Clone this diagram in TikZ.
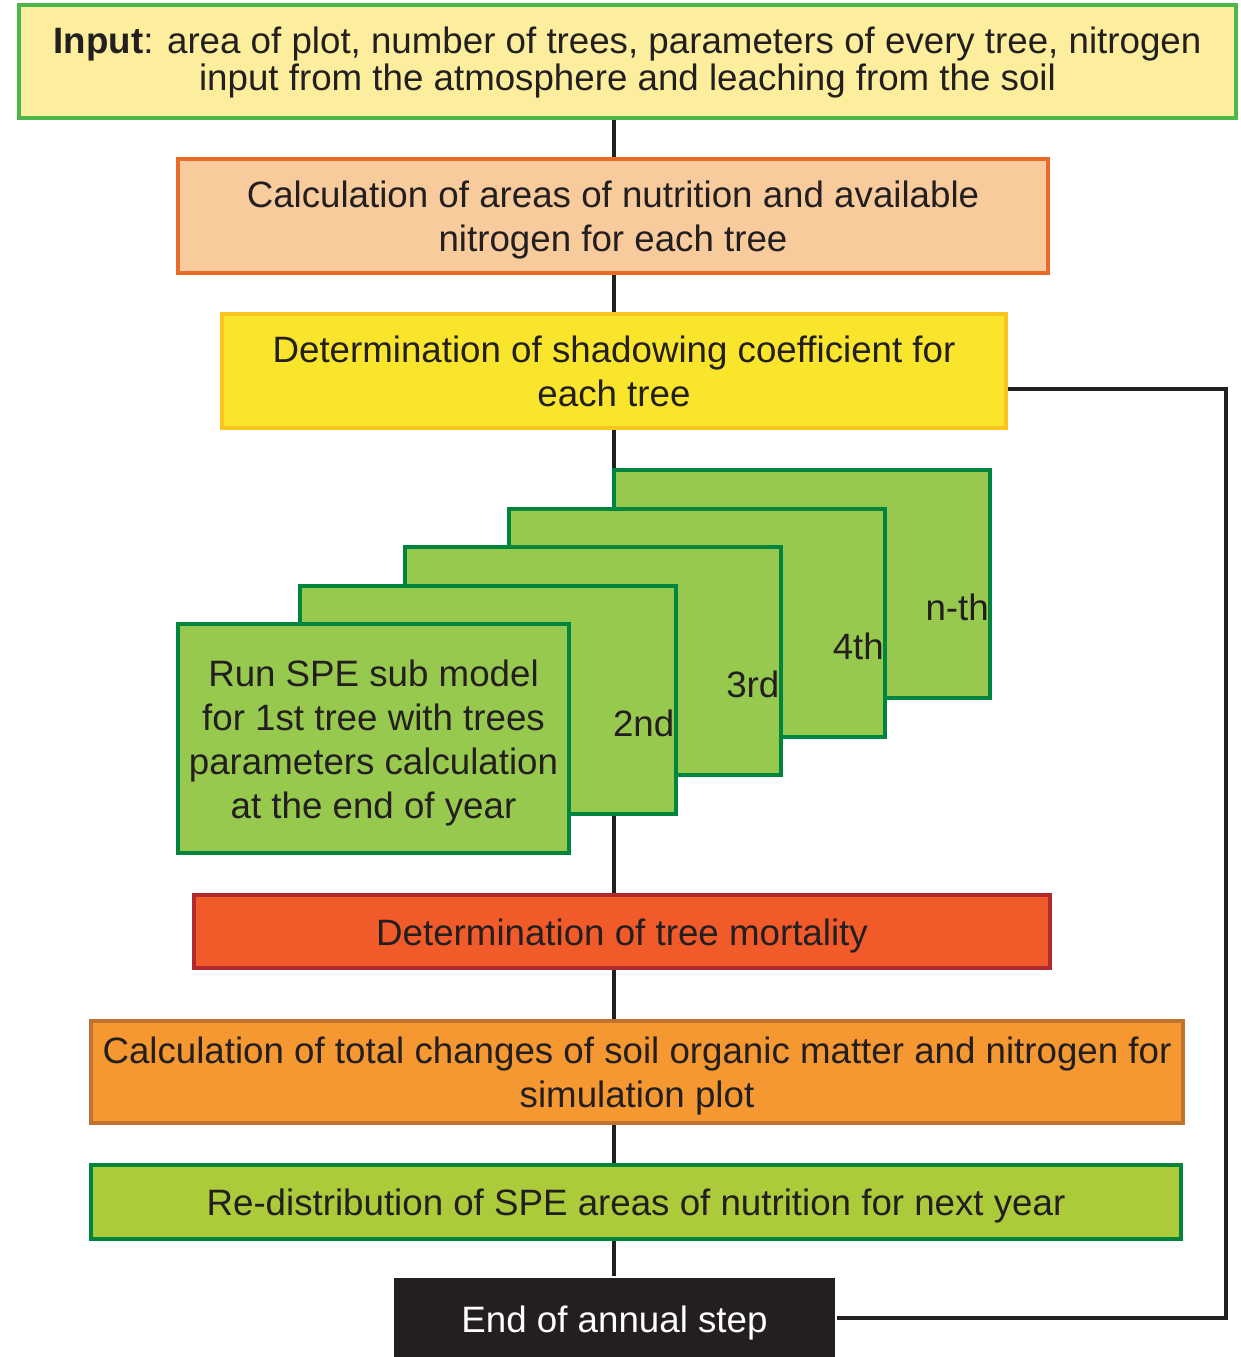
\documentclass[tikz,border=0pt]{standalone}
\usepackage{fontspec}
\setmainfont{Liberation Sans}
\definecolor{txt}{HTML}{231F20}
\definecolor{inFill}{HTML}{FCEE9C}
\definecolor{inLine}{HTML}{4CB649}
\definecolor{caFill}{HTML}{F8CB9C}
\definecolor{caLine}{HTML}{E86B2A}
\definecolor{shFill}{HTML}{F9E52B}
\definecolor{shLine}{HTML}{F9C41E}
\definecolor{stFill}{HTML}{97C94F}
\definecolor{stLine}{HTML}{00853F}
\definecolor{moFill}{HTML}{F15A29}
\definecolor{moLine}{HTML}{B12A30}
\definecolor{toFill}{HTML}{F59831}
\definecolor{toLine}{HTML}{C0732F}
\definecolor{reFill}{HTML}{ACCB3B}
\definecolor{reLine}{HTML}{00853F}
\newcommand\boxtext[2][-5pt]{\raisebox{#1}[\height][\depth]{\begin{tabular}{@{}c@{}}#2\end{tabular}}}
\begin{document}
\begin{tikzpicture}[x=1pt,y=-1pt,
  box/.style={rectangle,line width=4pt,inner sep=0pt,text=txt,
    font=\fontsize{36.7}{44}\selectfont},
  stackbox/.style={box,draw=stLine,fill=stFill,minimum width=376pt,minimum height=228pt},
  stacklabel/.style={inner sep=0pt,text=txt,font=\fontsize{36.7}{44}\selectfont,anchor=east},
  conn/.style={line width=4pt,draw=txt}]
\useasboundingbox (0,0) rectangle (1240,1357);
\coordinate (trunk) at (614,0);
\coordinate (fbx) at (1226,0);

\node[box,draw=inLine,fill=inFill,minimum width=1217pt,minimum height=113pt,
  font=\fontsize{36.7}{34}\selectfont] (input) at (627.5,61.5)
  {\boxtext[-2pt]{\textbf{Input}: area of plot, number of trees, parameters of every tree, nitrogen\\input from the atmosphere and leaching from the soil}};
\node[box,draw=caLine,fill=caFill,minimum width=870pt,minimum height=114pt] (calc) at (613,216)
  {\boxtext{Calculation of areas of nutrition and available\\nitrogen for each tree}};
\node[box,draw=shLine,fill=shFill,minimum width=784pt,minimum height=114pt] (shadow) at (614,371)
  {\boxtext{Determination of shadowing coefficient for\\each tree}};

\draw[conn] (input.south -| trunk) -- (calc.north -| trunk);
\draw[conn] (calc.south -| trunk) -- (shadow.north -| trunk);

\node[stackbox] (nth) at (802,584) {};
\draw[conn] (shadow.south -| trunk) -- (nth.north -| trunk);
\node[stacklabel] (lnth) at ([xshift=-3pt,yshift=-23pt]nth.east) {n-th};
\node[stackbox] (fourth) at (697,623) {};
\node[stacklabel] (lfourth) at ([xshift=-3pt,yshift=-23pt]fourth.east) {4th};
\node[stackbox] (third) at (592.5,661) {};
\node[stacklabel] (lthird) at ([xshift=-3pt,yshift=-23pt]third.east) {3rd};
\node[stackbox] (second) at (487.5,700) {};
\node[stacklabel] (lsecond) at ([xshift=-3pt,yshift=-23pt]second.east) {2nd};
\node[box,draw=stLine,fill=stFill,minimum width=391pt,minimum height=229pt] (first) at (373.5,738.5)
  {\boxtext{Run SPE sub model\\for 1st tree with trees\\parameters calculation\\at the end of year}};

\node[box,draw=moLine,fill=moFill,minimum width=856pt,minimum height=73pt] (mort) at (622,931.5)
  {\boxtext{Determination of tree mortality}};
\node[box,draw=toLine,fill=toFill,minimum width=1092pt,minimum height=102pt] (total) at (637,1072)
  {\boxtext{Calculation of total changes of soil organic matter and nitrogen for\\simulation plot}};
\node[box,draw=reLine,fill=reFill,minimum width=1090pt,minimum height=74pt] (redis) at (636,1202)
  {\boxtext{Re-distribution of SPE areas of nutrition for next year}};
\node[box,fill=txt,text=white,minimum width=441pt,minimum height=79pt] (endbox) at (614.5,1317.5)
  {\boxtext[-6pt]{End of annual step}};

\draw[conn] (second.south -| trunk) -- (mort.north -| trunk);
\draw[conn] (mort.south -| trunk) -- (total.north -| trunk);
\draw[conn] (total.south -| trunk) -- (redis.north -| trunk);
\draw[conn] (redis.south -| trunk) -- (endbox.north -| trunk);

\coordinate (fbstart) at ([yshift=-18pt]shadow.east);
\draw[conn,line join=miter] (fbstart) -- (fbstart -| fbx) -- (endbox.east -| fbx) -- (endbox.east);
\end{tikzpicture}
\end{document}
